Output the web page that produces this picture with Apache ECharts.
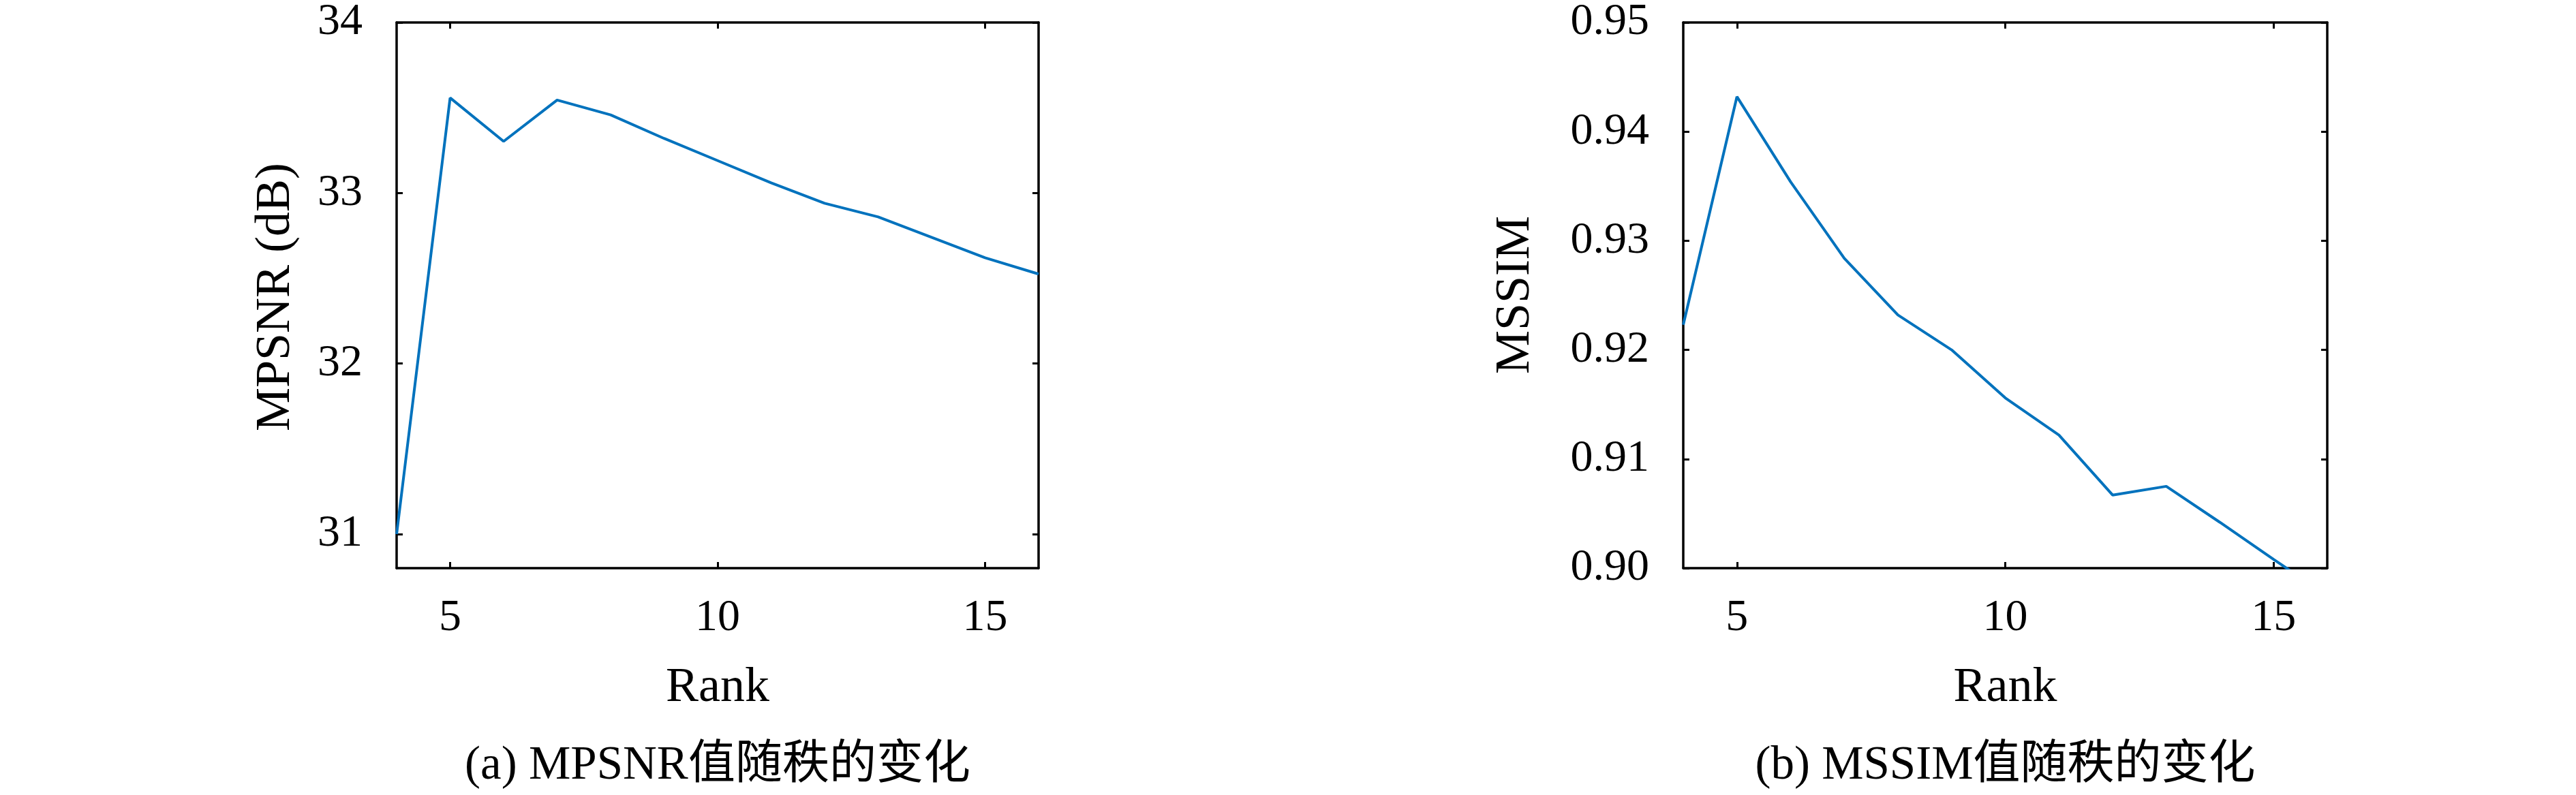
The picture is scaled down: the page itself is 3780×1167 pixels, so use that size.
<!DOCTYPE html>
<html>
<head>
<meta charset="utf-8">
<script src="https://cdn.jsdelivr.net/npm/echarts@6/dist/echarts.min.js"></script>
<style>
html,body{margin:0;padding:0;background:#fff;}
#chart{width:3780px;height:1167px;}
</style>
</head>
<body>
<div id="chart"></div>
<script>
// ---- data ----
var ranks = [4, 5, 6, 7, 8, 9, 10, 11, 12, 13, 14, 15, 16];
var mpsnr = [31.0, 33.558, 33.303, 33.545, 33.458, 33.32, 33.19, 33.06, 32.94, 32.86, 32.74, 32.62, 32.525];
var mssim = [0.9223, 0.9432, 0.9354, 0.9284, 0.9232, 0.9200, 0.9156, 0.9122, 0.9067, 0.9075, 0.9042, 0.9008, 0.8975];
var xTicks = [5, 10, 15];
var yTicksA = [31, 32, 33, 34];
var yTicksB = [0.90, 0.91, 0.92, 0.93, 0.94, 0.95];
var yLabelA = 'MPSNR (dB)';
var yLabelB = 'MSSIM';
var xLabel = 'Rank';
var captionA = '(a) MPSNR值随秩的变化';
var captionB = '(b) MSSIM值随秩的变化';

var FONT = '"Liberation Serif", "Noto Sans CJK SC", serif';
var FS = 66;

function pairs(xs, ys) { return xs.map(function (x, i) { return [x, ys[i]]; }); }

var grids = [
  {left: 582, top: 32, width: 942, height: 802},
  {left: 2470, top: 32, width: 945, height: 802}
];

function xAxes(gi) {
  var base = {
    type: 'value', gridIndex: gi, min: 4, max: 16,
    splitLine: {show: false},
    axisLine: {show: true, onZero: false, lineStyle: {color: '#000', width: 3.5}},
    axisTick: {show: true, inside: true, length: 9, lineStyle: {color: '#000', width: 3}, customValues: xTicks}
  };
  return [
    Object.assign({}, base, {position: 'bottom',
      axisLabel: {show: true, customValues: xTicks, margin: 41, color: '#000', fontSize: FS, fontFamily: FONT}}),
    Object.assign({}, base, {position: 'top', axisLabel: {show: false}})
  ];
}
function yAxes(gi, min, max, ticks, fmt) {
  var base = {
    type: 'value', gridIndex: gi, min: min, max: max,
    splitLine: {show: false},
    axisLine: {show: true, onZero: false, lineStyle: {color: '#000', width: 3.5}},
    axisTick: {show: true, inside: true, length: 9, lineStyle: {color: '#000', width: 3}, customValues: ticks}
  };
  return [
    Object.assign({}, base, {position: 'left',
      axisLabel: {show: true, customValues: ticks, margin: 50, color: '#000', fontSize: FS, fontFamily: FONT, formatter: fmt}}),
    Object.assign({}, base, {position: 'right', axisLabel: {show: false}})
  ];
}

var chart = echarts.init(document.getElementById('chart'));
var cxA = 582 + 942 / 2, cxB = 2470 + 945 / 2;
var LF = '72px ' + FONT;
var option = {
  backgroundColor: '#fff',
  animation: false,
  grid: grids,
  xAxis: xAxes(0).concat(xAxes(1)),
  yAxis: yAxes(0, 30.8, 34, yTicksA, function (v) { return String(Math.round(v)); })
    .concat(yAxes(1, 0.90, 0.95, yTicksB, function (v) { return v.toFixed(2); })),
  series: [
    {type: 'line', xAxisIndex: 0, yAxisIndex: 0, data: pairs(ranks, mpsnr), symbol: 'none', clip: true,
      lineStyle: {color: '#0072BD', width: 4}},
    {type: 'line', xAxisIndex: 2, yAxisIndex: 2, data: pairs(ranks, mssim), symbol: 'none', clip: true,
      lineStyle: {color: '#0072BD', width: 4}}
  ],
  graphic: [
    {type: 'text', x: 405, y: 436, rotation: Math.PI / 2,
      style: {text: yLabelA, font: LF, textAlign: 'center', textVerticalAlign: 'middle', fill: '#000'}},
    {type: 'text', x: 2224, y: 433, rotation: Math.PI / 2,
      style: {text: yLabelB, font: LF, textAlign: 'center', textVerticalAlign: 'middle', fill: '#000'}},
    {type: 'text', x: cxA, y: 1010,
      style: {text: xLabel, font: LF, textAlign: 'center', textVerticalAlign: 'middle', fill: '#000'}},
    {type: 'text', x: cxB, y: 1010,
      style: {text: xLabel, font: LF, textAlign: 'center', textVerticalAlign: 'middle', fill: '#000'}},
    {type: 'text', x: cxA, y: 1125,
      style: {text: captionA, font: '69px ' + FONT, textAlign: 'center', textVerticalAlign: 'middle', fill: '#000'}},
    {type: 'text', x: cxB, y: 1125,
      style: {text: captionB, font: '69px ' + FONT, textAlign: 'center', textVerticalAlign: 'middle', fill: '#000'}}
  ]
};
chart.setOption(option);
</script>
</body>
</html>
